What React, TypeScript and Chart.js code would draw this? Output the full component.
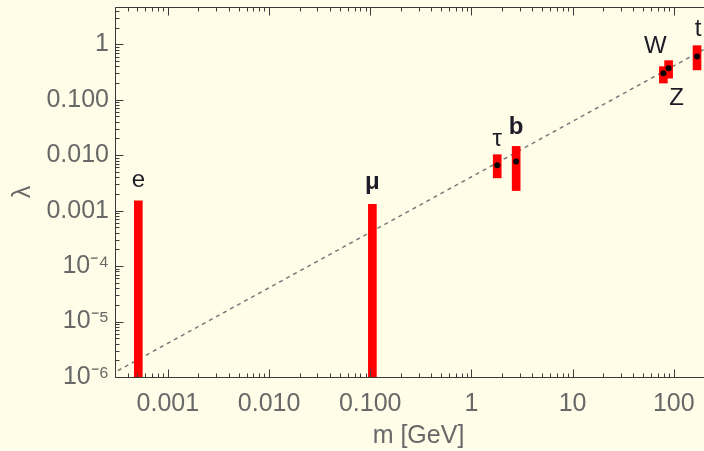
import React, { useEffect, useRef } from "react";
import { Chart, registerables } from "chart.js";

Chart.register(...registerables);

// ---- data ----
const particles = ["e", "μ", "τ", "b", "W", "Z", "t"];
const masses = [0.00051, 0.105, 1.8, 2.77, 79, 89, 170];
const centralValues: (number | null)[] = [null, null, 0.0066, 0.0077, 0.3, 0.37, 0.6];
const lowerValues = [1e-6, 1e-6, 0.0039, 0.0023, 0.2, 0.245, 0.345];
const upperValues = [0.0015, 0.0013, 0.0102, 0.0144, 0.395, 0.507, 0.944];
const boldLabels = [false, true, false, true, false, false, false];

const vev = 246; // dashed reference line: lambda = m / v
const lineMasses = [3.2e-4, 300];

const xRange = [3.2e-4, 300];
const yRange = [1e-6, 4.7];
const xTickValues = [0.001, 0.01, 0.1, 1, 10, 100];
const xTickLabels = ["0.001", "0.010", "0.100", "1", "10", "100"];
const yTickValues = [1e-6, 1e-5, 1e-4, 1e-3, 1e-2, 1e-1, 1];
const yTickLabels = ["10⁻⁶", "10⁻⁵", "10⁻⁴", "0.001", "0.010", "0.100", "1"];

// ---- label placement (style) ----
const labelPlacement = [
  { dx: 0, gap: 14, below: false },
  { dx: 0, gap: 15, below: false },
  { dx: 0, gap: 9, below: false },
  { dx: 0, gap: 12, below: false },
  { dx: -8, gap: 14, below: false },
  { dx: 8, gap: 12, below: true },
  { dx: 1, gap: 10, below: false },
];

const FONT = "'Liberation Sans', Arial, sans-serif";
const TEXT_GRAY = "#686868";
const FRAME = "#3a3a3a";
const BG = "#FFFDE7";

export default function App() {
  const canvasRef = useRef<HTMLCanvasElement>(null);

  useEffect(() => {
    const canvas = canvasRef.current;
    if (!canvas) return;

    const framePlugin = {
      id: "mmaFrame",
      afterDatasetsDraw(chart: any) {
        const { ctx, chartArea: a, scales } = chart;
        const xs = scales.x;
        const ys = scales.y;
        ctx.save();
        ctx.strokeStyle = FRAME;
        ctx.lineWidth = 1;
        ctx.beginPath();
        const L = Math.round(a.left) + 0.5;
        const T = Math.round(a.top) + 0.5;
        const R = Math.round(a.right) + 0.5;
        const B = Math.round(a.bottom) + 0.5;
        ctx.moveTo(L, T);
        ctx.lineTo(R, T);
        ctx.lineTo(R, B);
        ctx.lineTo(L, B);
        ctx.closePath();
        const xmin = xs.min, xmax = xs.max;
        for (let e = Math.floor(Math.log10(xmin)); e <= Math.ceil(Math.log10(xmax)); e++) {
          for (let k = 1; k <= 9; k++) {
            const v = k * Math.pow(10, e);
            if (v < xmin || v > xmax) continue;
            const px = Math.round(xs.getPixelForValue(v)) + 0.5;
            const len = k === 1 ? 8 : 4;
            ctx.moveTo(px, B);
            ctx.lineTo(px, B - len);
            ctx.moveTo(px, T);
            ctx.lineTo(px, T + len);
          }
        }
        const ymin = ys.min, ymax = ys.max;
        for (let e = Math.floor(Math.log10(ymin)); e <= Math.ceil(Math.log10(ymax)); e++) {
          for (let k = 1; k <= 9; k++) {
            const v = k * Math.pow(10, e);
            if (v < ymin || v > ymax) continue;
            const py = Math.round(ys.getPixelForValue(v)) + 0.5;
            const len = k === 1 ? 8 : 4;
            ctx.moveTo(L, py);
            ctx.lineTo(L + len, py);
            ctx.moveTo(R, py);
            ctx.lineTo(R - len, py);
          }
        }
        ctx.stroke();
        ctx.restore();
      },
    };

    const labelPlugin = {
      id: "particleLabels",
      afterDatasetsDraw(chart: any) {
        const { ctx, scales } = chart;
        ctx.save();
        ctx.fillStyle = "#1c1c28";
        ctx.textAlign = "center";
        particles.forEach((name, i) => {
          const p = labelPlacement[i];
          const x = scales.x.getPixelForValue(masses[i]) + p.dx;
          ctx.font = `${boldLabels[i] ? "bold " : ""}24px ${FONT}`;
          if (p.below) {
            const y = scales.y.getPixelForValue(lowerValues[i]) + p.gap;
            ctx.textBaseline = "top";
            ctx.fillText(name, x, y - 4);
          } else {
            const y = scales.y.getPixelForValue(upperValues[i]) - p.gap;
            ctx.textBaseline = "alphabetic";
            ctx.fillText(name, x, y);
          }
        });
        ctx.restore();
      },
    };

    const barData = particles.map((_, i) => ({ x: masses[i], y: [lowerValues[i], upperValues[i]] }));
    const dotData = particles
      .map((_, i) => ({ x: masses[i], y: centralValues[i] }))
      .filter((d) => d.y !== null);
    const lineData = lineMasses.map((m) => ({ x: m, y: m / vev }));

    const chart = new Chart(canvas, {
      type: "bar",
      data: {
        datasets: [
          {
            type: "scatter",
            label: "central",
            data: dotData as any,
            pointRadius: 3,
            pointBackgroundColor: "#000000",
            pointBorderWidth: 0,
            order: 0,
          } as any,
          {
            type: "bar",
            label: "range",
            data: barData as any,
            backgroundColor: "#ff0000",
            borderWidth: 0,
            barThickness: 8,
            order: 1,
          } as any,
          {
            type: "line",
            label: "m/v",
            data: lineData as any,
            borderColor: "#7a7a7a",
            borderWidth: 1.5,
            borderDash: [4, 4],
            pointRadius: 0,
            fill: false,
            order: 2,
          } as any,
        ],
      },
      options: {
        animation: false,
        responsive: false,
        devicePixelRatio: 1,
        layout: { padding: { top: 7, right: 3, left: 0, bottom: 0 } },
        plugins: { legend: { display: false }, tooltip: { enabled: false } },
        scales: {
          x: {
            type: "logarithmic",
            position: "bottom",
            min: xRange[0],
            max: xRange[1],
            grid: { display: false, drawTicks: false },
            border: { display: false },
            afterBuildTicks: (scale: any) => {
              scale.ticks = xTickValues.map((v) => ({ value: v }));
            },
            afterFit: (scale: any) => {
              scale.height = 74;
              scale.paddingLeft = 0;
              scale.paddingRight = 0;
            },
            ticks: {
              autoSkip: false,
              maxRotation: 0,
              padding: 12,
              color: TEXT_GRAY,
              font: { family: FONT, size: 25 },
              callback: (v: any) => {
                const i = xTickValues.findIndex((t) => Math.abs(t - v) / t < 1e-6);
                return i >= 0 ? xTickLabels[i] : "";
              },
            },
            title: {
              display: true,
              text: "m [GeV]",
              color: TEXT_GRAY,
              font: { family: FONT, size: 25 },
              padding: { top: 0, bottom: 0 },
            },
          },
          y: {
            type: "logarithmic",
            position: "left",
            min: yRange[0],
            max: yRange[1],
            grid: { display: false, drawTicks: false },
            border: { display: false },
            afterBuildTicks: (scale: any) => {
              scale.ticks = yTickValues.map((v) => ({ value: v }));
            },
            afterFit: (scale: any) => {
              scale.width = 115;
              scale.paddingTop = 0;
              scale.paddingBottom = 0;
            },
            ticks: {
              autoSkip: false,
              padding: 6,
              color: TEXT_GRAY,
              font: { family: FONT, size: 25 },
              callback: (v: any) => {
                const i = yTickValues.findIndex((t) => Math.abs(t - v) / t < 1e-6);
                return i >= 0 ? yTickLabels[i] : "";
              },
            },
            title: {
              display: true,
              text: "λ",
              color: TEXT_GRAY,
              font: { family: FONT, size: 25 },
              padding: { top: 8, bottom: 0 },
            },
          },
        },
      },
      plugins: [framePlugin, labelPlugin],
    });

    return () => chart.destroy();
  }, []);

  return (
    <div
      style={{
        position: "absolute",
        left: 0,
        top: 0,
        width: 704,
        height: 451,
        overflow: "hidden",
        background: BG,
      }}
    >
      <canvas ref={canvasRef} width={726} height={451} style={{ display: "block", width: 726, height: 451 }} />
    </div>
  );
}
